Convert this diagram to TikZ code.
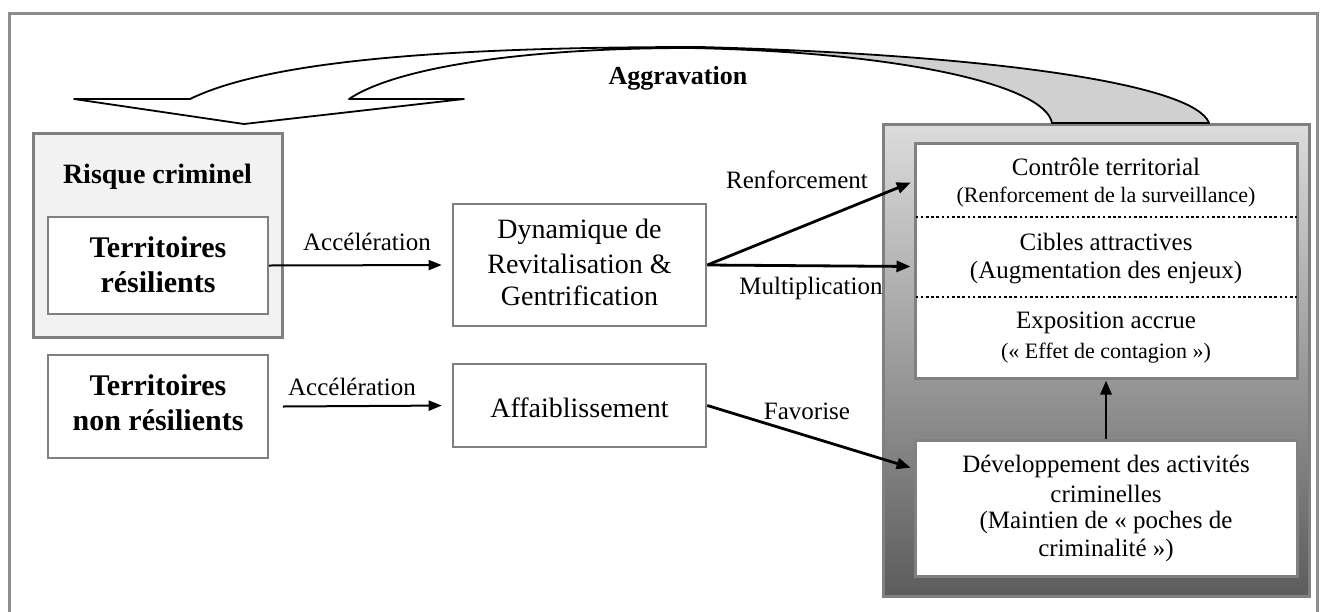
\documentclass[tikz,border=0pt]{standalone}
\usepackage{fontspec}
\setmainfont{Liberation Serif}
\usetikzlibrary{arrows.meta}
\definecolor{frameg}{RGB}{140,140,140}
\definecolor{boxg}{RGB}{128,128,128}
\definecolor{lightfill}{RGB}{242,242,242}
\definecolor{gradtop}{RGB}{220,220,220}
\definecolor{gradbot}{RGB}{92,92,92}
\definecolor{tailg}{RGB}{208,208,208}
\def\aggpath{(74,99) -- (190,99) .. controls (270,60) and (450,47) .. (700,47) .. controls (1000,55) and (1195,85) .. (1209,123) -- (1052,123) .. controls (1045,85) and (900,52) .. (690,48) .. controls (520,48) and (395,68) .. (349,99) -- (464,99) -- (244,124) -- cycle}
\begin{document}
\begin{tikzpicture}[x=1pt,y=-1pt,
  box/.style={draw=boxg, line width=2.6pt, fill=white, inner sep=0pt},
  thinbox/.style={draw=boxg, line width=1.8pt, fill=white, inner sep=0pt},
  txt/.style={inner sep=0pt, font=\fontsize{25}{30}\selectfont},
  small/.style={inner sep=0pt, font=\fontsize{22}{26}\selectfont},
  boxtxt/.style={inner sep=0pt, font=\fontsize{28}{32}\selectfont},
  bigb/.style={inner sep=0pt, font=\fontsize{30}{34}\selectfont\bfseries},
  arr/.style={line width=2.8pt, -{Triangle[length=14pt,width=11pt]}, shorten >=3pt},
  arrthin/.style={line width=2pt, -{Triangle[length=13pt,width=10pt]}},
  dotline/.style={line width=2.8pt, dash pattern=on 2.6pt off 2.6pt}
]
\useasboundingbox (0,0) rectangle (1324,611);
\fill[white] (0,0) rectangle (1324,611);
% frame
\draw[frameg, line width=3pt] (9,630) -- (9,13) -- (1317,13) -- (1317,630);

% gradient container
\node[draw=boxg, line width=3pt, top color=gradtop, bottom color=gradbot, minimum width=426pt, minimum height=472pt, inner sep=0pt] (grad) at (1096,360) {};
\node[box, line width=3pt, minimum width=382pt, minimum height=235pt] (top) at (1106,260.5) {};
\node[box, line width=3pt, minimum width=382pt, minimum height=136pt] (low) at (1106,508) {};
\draw[dotline] ([xshift=2pt]top.west |- 0,217) -- ([xshift=-2pt]top.east |- 0,217);
\draw[dotline] ([xshift=2pt]top.west |- 0,297) -- ([xshift=-2pt]top.east |- 0,297);

\node[txt] (t1) at (1106,167) {Contrôle territorial};
\node[small] (t2) at (1106,197) {(Renforcement de la surveillance)};
\node[txt] (t3) at (1106,242) {Cibles attractives};
\node[txt] (t4) at (1106,273) {(Augmentation des enjeux)};
\node[txt] (t5) at (1106,323) {Exposition accrue};
\node[small] (t6) at (1106,353) {(« Effet de contagion »)};

\node[txt] (l1) at (1106,466) {Développement des activités};
\node[txt] (l2) at (1106,494) {criminelles};
\node[txt] (l3) at (1106,522) {(Maintien de « poches de};
\node[txt] (l4) at (1106,550) {criminalité »)};

% aggravation arrow
\fill[white] \aggpath;
\begin{scope}
\clip (690,0) rectangle (1324,140);
\fill[tailg] \aggpath;
\end{scope}
\draw[line width=1.8pt, line join=round] \aggpath;
\node[inner sep=0pt, font=\fontsize{26}{30}\selectfont\bfseries] (agg) at (678,78) {Aggravation};

% left boxes
\node[draw=boxg, line width=3pt, fill=lightfill, minimum width=249pt, minimum height=204pt, inner sep=0pt] (risk) at (157.5,235) {};
\node[inner sep=0pt, font=\fontsize{28}{32}\selectfont\bfseries] (risklbl) at (157.5,177) {Risque criminel};
\node[thinbox, minimum width=220pt, minimum height=97pt] (res) at (158,265.5) {};
\node[bigb] (res1) at (158,247) {Territoires};
\node[bigb] (res2) at (158,282) {résilients};
\node[thinbox, minimum width=220pt, minimum height=103pt] (nres) at (158,406.5) {};
\node[bigb] (nres1) at (158,385) {Territoires};
\node[bigb] (nres2) at (158,420) {non résilients};

% middle boxes
\node[box, minimum width=253pt, minimum height=122pt] (dyn) at (579.5,265) {};
\node[boxtxt] (d1) at (579.5,232) {Dynamique de};
\node[boxtxt] (d2) at (579.5,264) {Revitalisation \&};
\node[boxtxt] (d3) at (579.5,296) {Gentrification};
\node[box, minimum width=253pt, minimum height=83pt] (aff) at (579.5,405.5) {};
\node[boxtxt] (a1) at (579.5,408) {Affaiblissement};

% connectors
\draw[arrthin, shorten >=10pt] (res.east) -- (dyn.west);
\node[txt] (acc1) at (367,242) {Accélération};
\draw[arrthin, shorten >=10pt] ([xshift=14pt]nres.east) -- (aff.west);
\node[txt] (acc2) at (352,387) {Accélération};

\draw[arr] (dyn.east) -- ([yshift=-40pt]top.north west);
\node[txt] (renf) at (797,180) {Renforcement};
\draw[arr] (dyn.east) -- ([yshift=-125pt]top.north west);
\node[txt] (mult) at (811,288) {Multiplication};
\draw[arr] (aff.east) -- ([yshift=-30pt]low.north west);
\node[txt] (fav) at (807,411) {Favorise};
\draw[arr, shorten >=1pt] (low.north) -- (top.south);
\end{tikzpicture}
\end{document}
